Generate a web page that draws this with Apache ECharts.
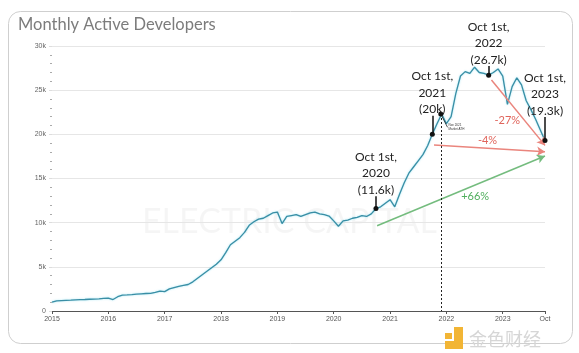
<!DOCTYPE html>
<html>
<head>
<meta charset="utf-8">
<script src="https://cdn.jsdelivr.net/npm/echarts@6/dist/echarts.min.js"></script>
<style>
html, body { margin: 0; padding: 0; background: #fff; }
#chart { width: 579px; height: 353px; }
</style>
</head>
<body>
<div id="chart"></div>
<script>
// monthly active developers, thousands, Jan 2015 .. Oct 2023
var devValues = [
    1.0, 1.15, 1.18, 1.2, 1.22, 1.25, 1.28, 1.3, 1.33, 1.35, 1.38, 1.42,
    1.45, 1.3, 1.62, 1.8, 1.82, 1.85, 1.9, 1.95, 1.98, 2.0, 2.1, 2.25,
    2.2, 2.5, 2.65, 2.8, 2.9, 3.0, 3.3, 3.7, 4.1, 4.5, 4.9, 5.3,
    5.8, 6.6, 7.5, 7.9, 8.3, 8.9, 9.7, 10.1, 10.4, 10.5, 10.8, 11.1,
    11.2, 9.9, 10.7, 10.8, 10.9, 10.7, 10.9, 11.1, 11.2, 11.0, 10.9, 10.75,
    10.2, 9.6, 10.2, 10.3, 10.5, 10.6, 10.8, 10.7, 11.0, 11.6, 11.8, 12.2,
    12.6, 11.8, 13.2, 14.5, 15.6, 16.3, 17.0, 17.7, 18.7, 20.0, 21.2, 22.3,
    21.2, 22.0, 24.6, 26.6, 27.1, 26.9, 27.6, 27.0, 26.9, 26.7, 27.0, 27.4,
    26.6, 23.4, 25.4, 26.4, 25.6, 23.8, 22.8, 21.7, 20.5, 19.3
];
var startYear = 2015;
var endX = 2023.75;
var yTicks = [0, 5000, 10000, 15000, 20000, 25000, 30000];

// callouts: x (decimal year), value at dot, top of pointer, text
var calloutX = [2020.75, 2021.75, 2022.75, 2023.75];
var calloutY = [11600, 20000, 26700, 19300];
var calloutTop = [13000, 22100, 27750, 21950];
var calloutText = ['Oct 1st,\n2020\n(11.6k)', 'Oct 1st,\n2021\n(20k)', 'Oct 1st,\n2022\n(26.7k)', 'Oct 1st,\n2023\n(19.3k)'];

// change arrows: [start x, start y, end x, end y]
var arrowRed27 = [2022.80, 26150, 2023.75, 18750];
var arrowRed4 = [2021.78, 18800, 2023.75, 18030];
var arrowGreen66 = [2020.77, 9650, 2023.75, 17550];
var pctLabels = [['-27%', 2023.08, 21540, '#e0655c'], ['-4%', 2022.73, 19300, '#e0655c'], ['+66%', 2022.51, 12950, '#4fae5c']];

var athX = 2021.9;
var athY = 22300;

var chart = echarts.init(document.getElementById('chart'));

var seriesData = devValues.map(function (v, i) {
    return [startYear + i / 12, v * 1000];
});

var markLines = [];
var markPoints = [];
calloutX.forEach(function (x, i) {
    markLines.push([
        { coord: [x, calloutY[i]], lineStyle: { color: '#111', width: 1.5, type: 'solid' } },
        { coord: [x, calloutTop[i]] }
    ]);
    markPoints.push({
        coord: [x, calloutY[i]], symbol: 'circle', symbolSize: 5,
        itemStyle: { color: '#111' }, label: { show: false }
    });
    markPoints.push({
        coord: [x, calloutTop[i]], symbol: 'circle', symbolSize: 0,
        label: {
            show: true, position: 'top', distance: 1, offset: [0, 3], formatter: calloutText[i],
            fontFamily: 'Lato', fontSize: 12, lineHeight: 16.5, color: '#222', align: 'center'
        }
    });
});

function arrow(a, color) {
    return [
        { coord: [a[0], a[1]], symbol: 'none', lineStyle: { color: color, width: 1.5, type: 'solid' } },
        { coord: [a[2], a[3]], symbol: 'arrow', symbolSize: [7, 8] }
    ];
}
markLines.push(arrow(arrowRed27, '#ea857d'));
markLines.push(arrow(arrowRed4, '#ea857d'));
markLines.push(arrow(arrowGreen66, '#74bc7e'));

// ATH marker
markLines.push([
    { coord: [athX, athY], lineStyle: { color: '#222', width: 1, type: [2, 2] } },
    { coord: [athX, 0] }
]);
markLines.push([
    { coord: [athX, athY], lineStyle: { color: '#222', width: 0.8, type: 'solid' } },
    { coord: [athX + 0.12, athY - 1500] }
]);
markPoints.push({
    coord: [athX, athY], symbol: 'circle', symbolSize: 5,
    itemStyle: { color: '#111' }, label: { show: false }
});
markPoints.push({
    coord: [athX + 0.12, athY - 1500], symbol: 'circle', symbolSize: 0,
    label: { show: true, position: 'right', distance: 1, formatter: 'Nov 2021\nMarket ATH', fontSize: 3, lineHeight: 4, color: '#333' }
});

pctLabels.forEach(function (p) {
    markPoints.push({
        coord: [p[1], p[2]], symbol: 'circle', symbolSize: 0,
        label: { show: true, position: 'inside', formatter: p[0], fontFamily: 'Lato', fontSize: 11, color: p[3] }
    });
});

var option = {
    animation: false,
    title: {
        text: 'Monthly Active Developers',
        left: 13,
        top: 11,
        textStyle: { fontFamily: 'Lato', fontWeight: 'normal', fontSize: 16.5, color: '#7c7c7c' }
    },
    graphic: [
        {
            type: 'rect', left: 6, top: 9, z: -10,
            shape: { width: 564, height: 332, r: 12 },
            style: { fill: 'none', stroke: '#cfcfcf', lineWidth: 1 }
        },
        {
            type: 'text', left: 'center', top: 205, z: -5,
            style: { text: 'ELECTRIC CAPITAL', fontFamily: 'Lato', fontSize: 34, fill: 'rgba(0,0,0,0.04)' }
        },
        { type: 'rect', shape: { x: 445, y: 333, width: 7, height: 6 }, style: { fill: '#f2b535' } },
        { type: 'rect', shape: { x: 454, y: 327, width: 9, height: 22 }, style: { fill: '#f2b535' } },
        { type: 'rect', shape: { x: 445, y: 341, width: 18, height: 8 }, style: { fill: '#f2b535' } },
        {
            type: 'text', x: 469, y: 330,
            style: { text: '金色财经', fontFamily: 'Noto Sans CJK SC', fontSize: 18, fill: '#d6d6d6' }
        }
    ],
    grid: { left: 52, right: 34, top: 46, bottom: 42 },
    xAxis: {
        type: 'value',
        min: startYear,
        max: endX,
        interval: 1,
        splitLine: { show: false },
        axisLine: { lineStyle: { color: '#555', width: 1 } },
        axisTick: { show: true, length: 3, lineStyle: { color: '#555' } },
        axisLabel: {
            fontSize: 7, color: '#555', margin: 5,
            formatter: function (v) { return v === endX ? 'Oct' : String(Math.round(v)); }
        }
    },
    yAxis: {
        type: 'value',
        min: yTicks[0],
        max: yTicks[yTicks.length - 1],
        interval: 5000,
        axisLine: { show: false },
        axisTick: { show: true, length: 3, lineStyle: { color: '#ddd' } },
        minorTick: { show: true, splitNumber: 5, length: 2, lineStyle: { color: '#aaa' } },
        splitLine: { lineStyle: { color: '#e6e6e6', width: 1 } },
        axisLabel: {
            fontSize: 7, color: '#666', margin: 6,
            formatter: function (v) { return v === 0 ? '0' : (v / 1000) + 'k'; }
        }
    },
    series: [{
        type: 'line',
        data: seriesData,
        showSymbol: false,
        smooth: false,
        clip: false,
        lineStyle: { color: '#3a8ea5', width: 1.3, shadowColor: 'rgba(90,210,235,0.6)', shadowBlur: 2 },
        markLine: { silent: true, symbol: 'none', label: { show: false }, data: markLines },
        markPoint: { silent: true, data: markPoints }
    }]
};

chart.setOption(option);
</script>
</body>
</html>
